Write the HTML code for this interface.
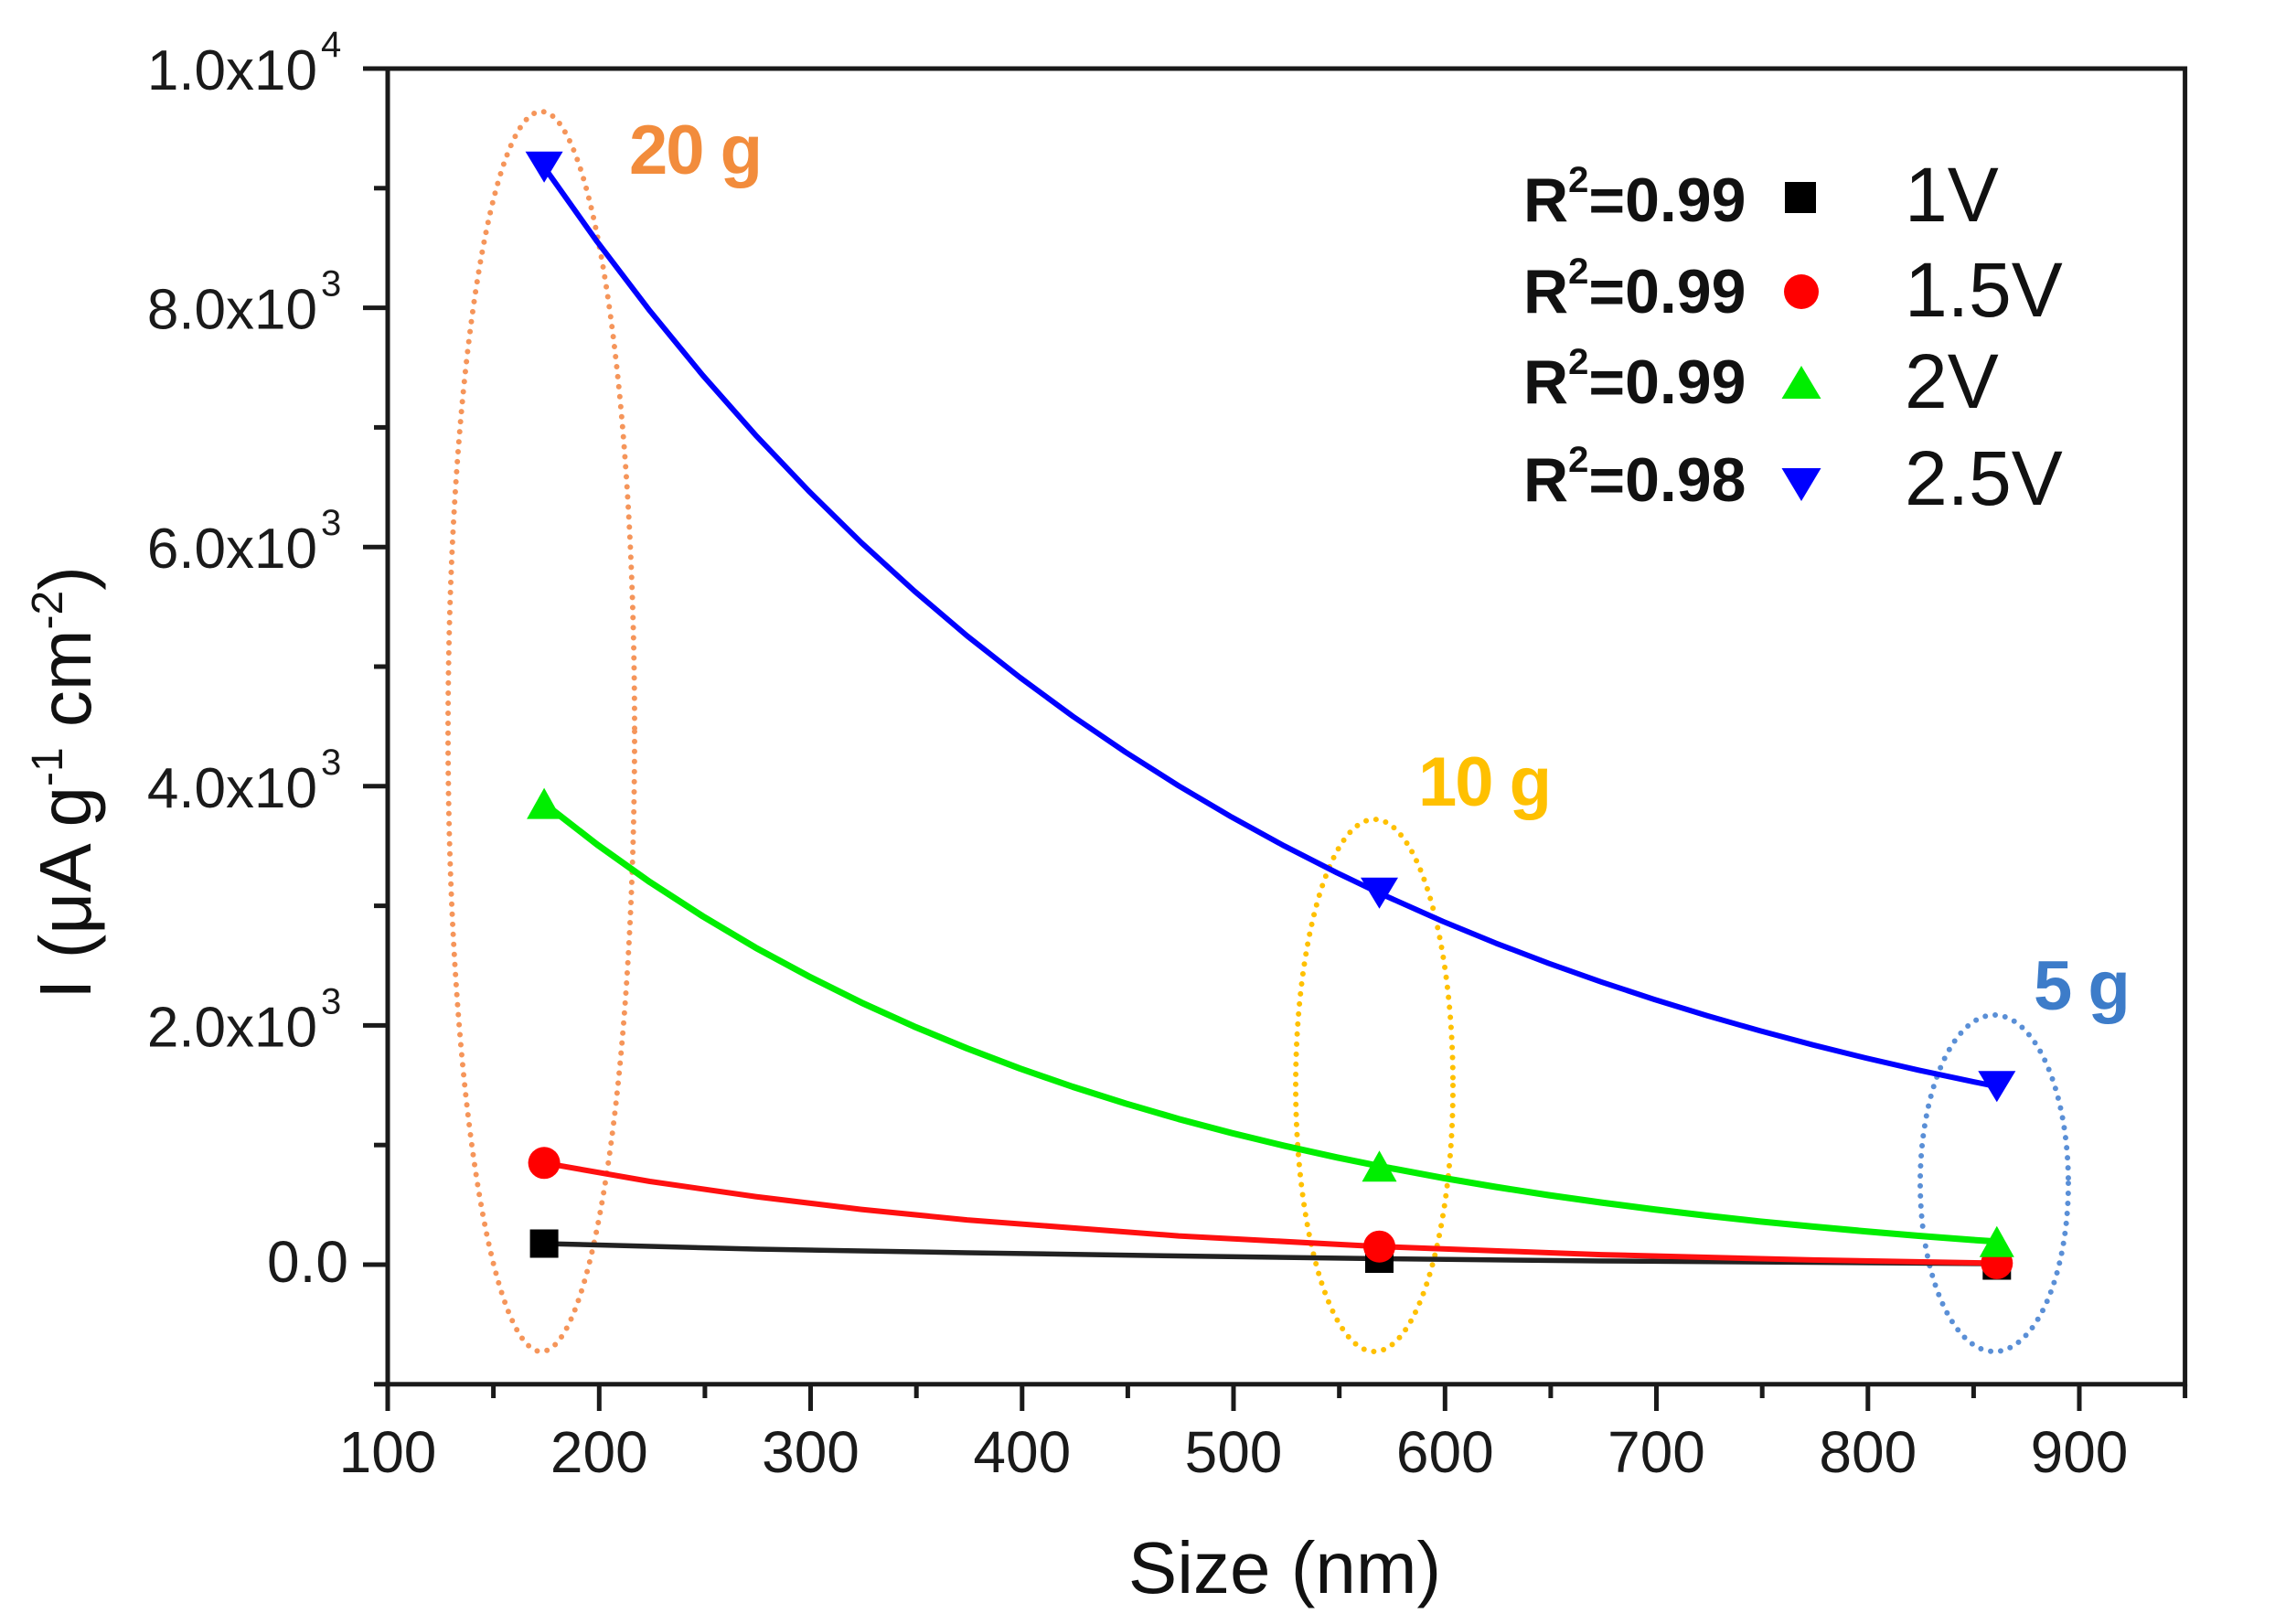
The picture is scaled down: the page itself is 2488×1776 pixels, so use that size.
<!DOCTYPE html>
<html>
<head>
<meta charset="utf-8">
<style>
  html,body{margin:0;padding:0;background:#fff;}
  svg{display:block;}
  text{font-family:"Liberation Sans", Arial, sans-serif;}
</style>
</head>
<body>
<svg width="2488" height="1776" viewBox="0 0 2488 1776" xmlns="http://www.w3.org/2000/svg">
  <rect x="0" y="0" width="2488" height="1776" fill="#fff"/>

  <!-- Ellipses (dotted) -->
  <g fill="none" stroke-width="6" stroke-linecap="round" stroke-dasharray="0 11">
    <ellipse cx="592" cy="800" rx="102" ry="678" stroke="#F5955A"/>
    <ellipse cx="1503" cy="1187" rx="86" ry="291" stroke="#FFC000"/>
    <ellipse cx="2181" cy="1294" rx="81" ry="184" stroke="#5A8FD6"/>
  </g>

  <!-- Axes -->
  <g stroke="#1a1a1a" stroke-width="5" fill="none" stroke-linecap="square">
    <rect x="424" y="75" width="1965.6" height="1438.8"/>
  </g>
  <!-- Y ticks -->
  <g stroke="#1a1a1a" stroke-width="5">
    <line x1="397" y1="75" x2="424" y2="75"/>
    <line x1="397" y1="336.6" x2="424" y2="336.6"/>
    <line x1="397" y1="598.2" x2="424" y2="598.2"/>
    <line x1="397" y1="859.8" x2="424" y2="859.8"/>
    <line x1="397" y1="1121.4" x2="424" y2="1121.4"/>
    <line x1="397" y1="1383" x2="424" y2="1383"/>
    <line x1="409" y1="205.8" x2="424" y2="205.8"/>
    <line x1="409" y1="467.4" x2="424" y2="467.4"/>
    <line x1="409" y1="729" x2="424" y2="729"/>
    <line x1="409" y1="990.6" x2="424" y2="990.6"/>
    <line x1="409" y1="1252.2" x2="424" y2="1252.2"/>
    <line x1="409" y1="1513.8" x2="424" y2="1513.8"/>
  </g>
  <!-- X ticks -->
  <g stroke="#1a1a1a" stroke-width="5">
    <line x1="424" y1="1513.8" x2="424" y2="1543"/>
    <line x1="655.3" y1="1513.8" x2="655.3" y2="1543"/>
    <line x1="886.5" y1="1513.8" x2="886.5" y2="1543"/>
    <line x1="1117.8" y1="1513.8" x2="1117.8" y2="1543"/>
    <line x1="1349" y1="1513.8" x2="1349" y2="1543"/>
    <line x1="1580.3" y1="1513.8" x2="1580.3" y2="1543"/>
    <line x1="1811.5" y1="1513.8" x2="1811.5" y2="1543"/>
    <line x1="2042.8" y1="1513.8" x2="2042.8" y2="1543"/>
    <line x1="2274" y1="1513.8" x2="2274" y2="1543"/>
    <line x1="539.6" y1="1513.8" x2="539.6" y2="1529"/>
    <line x1="770.9" y1="1513.8" x2="770.9" y2="1529"/>
    <line x1="1002.2" y1="1513.8" x2="1002.2" y2="1529"/>
    <line x1="1233.4" y1="1513.8" x2="1233.4" y2="1529"/>
    <line x1="1464.7" y1="1513.8" x2="1464.7" y2="1529"/>
    <line x1="1695.9" y1="1513.8" x2="1695.9" y2="1529"/>
    <line x1="1927.2" y1="1513.8" x2="1927.2" y2="1529"/>
    <line x1="2158.4" y1="1513.8" x2="2158.4" y2="1529"/>
    <line x1="2389.6" y1="1513.8" x2="2389.6" y2="1529"/>
  </g>

  <!-- Y tick labels -->
  <g font-size="62" fill="#1a1a1a">
    <text x="347" y="98" text-anchor="end">1.0x10</text>
    <text x="351" y="62" font-size="40">4</text>
    <text x="347" y="359.6" text-anchor="end">8.0x10</text>
    <text x="351" y="323.6" font-size="40">3</text>
    <text x="347" y="621.2" text-anchor="end">6.0x10</text>
    <text x="351" y="585.2" font-size="40">3</text>
    <text x="347" y="882.8" text-anchor="end">4.0x10</text>
    <text x="351" y="846.8" font-size="40">3</text>
    <text x="347" y="1144.4" text-anchor="end">2.0x10</text>
    <text x="351" y="1108.4" font-size="40">3</text>
    <text x="381" y="1402" text-anchor="end" font-size="64">0.0</text>
  </g>

  <!-- X tick labels -->
  <g font-size="64" fill="#1a1a1a" text-anchor="middle">
    <text x="424" y="1610">100</text>
    <text x="655.3" y="1610">200</text>
    <text x="886.5" y="1610">300</text>
    <text x="1117.8" y="1610">400</text>
    <text x="1349" y="1610">500</text>
    <text x="1580.3" y="1610">600</text>
    <text x="1811.5" y="1610">700</text>
    <text x="2042.8" y="1610">800</text>
    <text x="2274" y="1610">900</text>
  </g>

  <!-- Axis titles -->
  <text x="1405" y="1742" font-size="80" fill="#111" text-anchor="middle">Size (nm)</text>
  <text transform="translate(99,856) rotate(-90)" font-size="80" fill="#111" text-anchor="middle">I (μA g<tspan font-size="48" dy="-31">-1</tspan><tspan dy="31"> cm</tspan><tspan font-size="48" dy="-31">-2</tspan><tspan dy="31">)</tspan></text>

  <!-- Curves -->
  <g fill="none" stroke-linejoin="round" stroke-linecap="round">
    <polyline stroke="#222" stroke-width="5.5" points="595.1,1360 826.4,1366 1057.6,1370 1288.9,1373.5 1508.5,1376.5 1751.4,1379 1982.6,1380.5 2183.8,1382"/>
    <polyline stroke="#FF1010" stroke-width="6" points="595.1,1271.8 710.7,1292 826.4,1308.6 942.0,1322.6 1057.6,1334.1 1288.9,1351.6 1508.5,1363.2 1751.4,1372.1 1982.6,1377.9 2183.8,1381.4"/>
    <polyline stroke="#00EE00" stroke-width="7" points="595.1,878.6 652.9,923.5 710.7,964.6 768.5,1002.0 826.4,1036.4 884.2,1067.6 942.0,1096.4 999.8,1122.6 1057.6,1146.5 1115.4,1168.5 1173.2,1188.5 1231.0,1206.8 1288.9,1223.7 1346.7,1239.0 1404.5,1253.0 1462.3,1265.8 1508.5,1275.2 1577.9,1288.2 1635.7,1298.0 1693.5,1307.0 1751.4,1315.1 1809.2,1322.6 1867.0,1329.5 1924.8,1335.8 1982.6,1341.4 2040.4,1346.6 2098.2,1351.5 2156.0,1355.9 2183.8,1357.8"/>
    <polyline stroke="#0000FF" stroke-width="6" points="595.1,182.8 652.9,264.1 710.7,339.9 768.5,410.4 826.4,475.9 884.2,536.7 942.0,593.5 999.8,646.2 1057.6,695.4 1115.4,740.8 1173.2,783.3 1231.0,822.6 1288.9,859.3 1346.7,893.4 1404.5,925.1 1462.3,954.6 1508.5,976.7 1577.9,1007.6 1635.7,1031.4 1693.5,1053.4 1751.4,1073.9 1809.2,1093.0 1867.0,1110.8 1924.8,1127.3 1982.6,1142.7 2040.4,1157.0 2098.2,1170.3 2156.0,1182.6 2183.8,1188.2"/>
  </g>

  <!-- Markers -->
  <g fill="#000">
    <rect x="579.6" y="1344.5" width="31" height="31"/>
    <rect x="1493" y="1361" width="31" height="31"/>
    <rect x="2168.3" y="1368.5" width="31" height="31"/>
  </g>
  <g fill="#FF0000">
    <circle cx="595.1" cy="1271.8" r="17.5"/>
    <circle cx="1508.5" cy="1363.2" r="17.5"/>
    <circle cx="2183.8" cy="1381.4" r="17.5"/>
  </g>
  <g fill="#00EE00">
    <polygon points="576.1,895.6 614.1,895.6 595.1,861.6"/>
    <polygon points="1489.5,1292.2 1527.5,1292.2 1508.5,1258.2"/>
    <polygon points="2164.8,1374.8 2202.8,1374.8 2183.8,1340.8"/>
  </g>
  <g fill="#0000FF">
    <polygon points="574.6,165.8 615.6,165.8 595.1,199.8"/>
    <polygon points="1488,959.7 1529,959.7 1508.5,993.7"/>
    <polygon points="2163.3,1171.2 2204.3,1171.2 2183.8,1205.2"/>
  </g>

  <!-- Annotations -->
  <g font-weight="bold" font-size="76" letter-spacing="-2">
    <text x="688" y="190" fill="#F28C3C">20 g</text>
    <text x="1551" y="881" fill="#FFC000">10 g</text>
    <text x="2224" y="1104" fill="#3D7CC9">5 g</text>
  </g>

  <!-- Legend -->
  <g font-weight="bold" font-size="68" fill="#111">
    <text x="1666" y="242">R<tspan font-size="40" dy="-32">2</tspan><tspan dy="32">=0.99</tspan></text>
    <text x="1666" y="342">R<tspan font-size="40" dy="-32">2</tspan><tspan dy="32">=0.99</tspan></text>
    <text x="1666" y="441">R<tspan font-size="40" dy="-32">2</tspan><tspan dy="32">=0.99</tspan></text>
    <text x="1666" y="548">R<tspan font-size="40" dy="-32">2</tspan><tspan dy="32">=0.98</tspan></text>
  </g>
  <rect x="1952" y="199" width="34" height="34" fill="#000"/>
  <circle cx="1970" cy="319" r="19" fill="#FF0000"/>
  <polygon points="1948.5,436 1991.5,436 1970,400" fill="#00EE00"/>
  <polygon points="1948.5,512 1991.5,512 1970,548" fill="#0000FF"/>
  <g font-size="84" fill="#111">
    <text x="2083" y="242">1V</text>
    <text x="2083" y="346">1.5V</text>
    <text x="2083" y="446">2V</text>
    <text x="2083" y="552">2.5V</text>
  </g>
</svg>
</body>
</html>
